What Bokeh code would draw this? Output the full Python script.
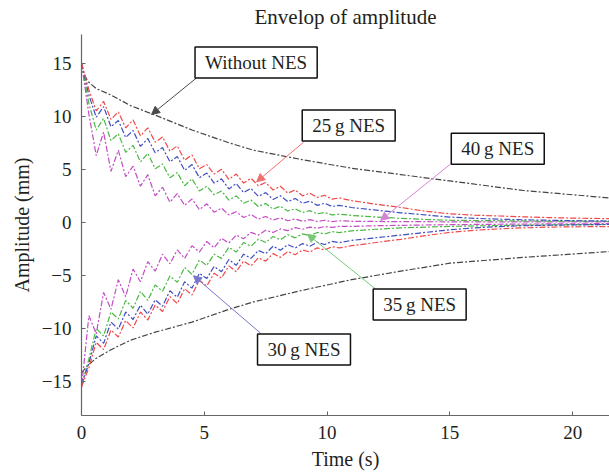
from bokeh.plotting import figure
from bokeh.models import Range1d, Label, Arrow, NormalHead, FixedTicker
from bokeh.embed import file_html
from bokeh.resources import INLINE

# ---- data ----
T_OSC = [0.0, 0.3, 0.6, 0.9, 1.2, 1.5, 1.8, 2.1, 2.4, 2.7, 3.0, 3.3, 3.6, 3.9,
         4.2, 4.5, 4.8, 5.1, 5.4, 5.7, 6.0, 6.3, 6.6, 6.9, 7.2, 7.5, 7.8, 8.1,
         8.4, 8.7, 9.0, 9.3, 9.6, 9.9, 10.2, 10.5,
         11, 12, 13, 14, 15, 16, 17, 18, 19, 20, 21.5]

RED_UP = [15.0, 12.5, 10.5, 11.4, 9.7, 10.4, 8.9, 9.65, 8.15, 8.9, 7.55, 8.05, 6.7, 7.2,
          5.85, 6.35, 5.05, 5.45, 4.55, 5.0, 4.05, 4.55, 3.7, 4.15, 3.45, 3.75, 3.05, 3.4,
          2.75, 3.05, 2.5, 2.75, 2.35, 2.55, 2.18, 2.3,
          2.05, 1.7, 1.4, 1.05, 0.8, 0.68, 0.6, 0.52, 0.45, 0.4, 0.35]
BLUE_UP = [15.0, 12.0, 9.9, 10.9, 9.0, 9.6, 8.0, 8.65, 7.15, 7.9, 6.55, 7.05, 5.7, 6.2,
           4.9, 5.45, 4.2, 4.65, 3.7, 4.1, 3.15, 3.65, 2.8, 3.2, 2.45, 2.8, 2.15, 2.5,
           1.95, 2.25, 1.8, 2.0, 1.6, 1.8, 1.5, 1.6,
           1.4, 1.15, 0.9, 0.7, 0.5, 0.38, 0.3, 0.24, 0.2, 0.16, 0.12]
GREEN_UP = [15.0, 11.2, 8.7, 9.8, 7.7, 8.35, 6.6, 7.25, 5.7, 6.5, 5.05, 5.5, 4.2, 4.7,
            3.45, 4.1, 2.95, 3.4, 2.6, 2.95, 2.1, 2.5, 1.8, 2.1, 1.5, 1.78, 1.25, 1.52,
            1.07, 1.28, 0.93, 1.1, 0.8, 0.93, 0.7, 0.78,
            0.65, 0.5, 0.38, 0.28, 0.2, 0.17, 0.15, 0.13, 0.12, 0.11, 0.1]
MAGENTA_UP = [15.0, 10.2, 6.3, 8.5, 4.8, 6.8, 4.3, 5.3, 3.4, 4.5, 2.5, 3.3, 1.9, 2.7,
              1.6, 2.2, 1.2, 1.75, 0.95, 1.35, 0.7, 1.0, 0.45, 0.75, 0.3, 0.55, 0.22, 0.42,
              0.15, 0.32, 0.1, 0.25, 0.08, 0.2, 0.06, 0.15,
              0.1, 0.08, 0.06, 0.06, 0.05, 0.05, 0.05, 0.05, 0.05, 0.05, 0.05]

RED_LO = [-15.5, -13.7, -11.3, -12.0, -10.15, -10.8, -9.25, -9.95, -8.45, -9.2, -7.8, -8.4, -7.0, -7.65,
          -6.25, -6.85, -5.45, -6.0, -4.8, -5.25, -4.1, -4.65, -3.65, -4.1, -3.35, -3.65, -2.95, -3.3,
          -2.75, -3.05, -2.6, -2.8, -2.4, -2.6, -2.3, -2.41,
          -2.2, -1.9, -1.6, -1.25, -0.95, -0.75, -0.62, -0.52, -0.45, -0.42, -0.4]
BLUE_LO = [-15.3, -13.3, -10.7, -11.4, -9.4, -10.05, -8.45, -9.15, -7.8, -8.65, -7.3, -7.9, -6.45, -7.05,
           -5.6, -6.2, -4.8, -5.3, -4.15, -4.65, -3.5, -4.05, -3.0, -3.4, -2.65, -2.95, -2.25, -2.62,
           -2.1, -2.42, -2.0, -2.25, -1.88, -2.09, -1.8, -1.91,
           -1.7, -1.45, -1.2, -0.95, -0.7, -0.52, -0.4, -0.32, -0.27, -0.24, -0.2]
GREEN_LO = [-15.4, -12.9, -10.0, -10.7, -8.45, -9.1, -7.35, -8.1, -6.5, -7.35, -5.9, -6.5, -5.05, -5.65,
            -4.25, -4.9, -3.55, -4.05, -3.0, -3.4, -2.35, -2.8, -1.9, -2.25, -1.58, -1.9, -1.33, -1.64,
            -1.17, -1.46, -1.08, -1.26, -0.95, -1.1, -0.87, -0.96,
            -0.8, -0.65, -0.52, -0.45, -0.38, -0.34, -0.3, -0.27, -0.25, -0.22, -0.2]
MAGENTA_LO = [-15.6, -8.8, -10.5, -6.6, -8.2, -5.4, -7.0, -4.4, -5.6, -3.7, -4.6, -3.0, -3.9, -2.6,
              -3.4, -2.2, -2.8, -1.8, -2.4, -1.5, -1.95, -1.2, -1.55, -0.95, -1.2, -0.75, -0.95, -0.62,
              -0.78, -0.5, -0.65, -0.45, -0.55, -0.4, -0.48, -0.38,
              -0.38, -0.32, -0.28, -0.25, -0.22, -0.2, -0.18, -0.16, -0.15, -0.14, -0.12]

T_BLACK = [0, 0.1, 0.25, 0.6, 1.2, 2, 3, 4.5, 6, 7, 9, 11, 13, 15, 18, 21.5]
BLACK_UP = [15.0, 14.0, 13.3, 12.6, 12.0, 11.0, 10.1, 8.7, 7.5, 6.8, 5.9, 5.1, 4.5, 3.9, 3.0, 2.3]
BLACK_LO = [-14.2, -13.9, -13.5, -12.8, -12.0, -11.1, -10.35, -9.4, -8.2, -7.5, -6.4, -5.4, -4.6, -3.85, -3.3, -2.75]

X_TICKS = [0, 5, 10, 15, 20]
Y_TICKS = [-15, -10, -5, 0, 5, 10, 15]

# annotation texts, box centres and arrow start/end (data units)
NOTE_TEXT = ["Without NES", "25\u2009g NES", "40\u2009g NES", "35\u2009g NES", "30\u2009g NES"]
NOTE_X = [7.11, 10.88, 16.95, 13.77, 9.06]
NOTE_Y = [15.05, 9.13, 6.94, -7.74, -11.98]
ARROW_X0 = [4.68, 9.04, 15.03, 12.1, 7.29]
ARROW_Y0 = [13.6, 7.55, 5.5, -6.52, -10.44]
ARROW_X1 = [2.85, 7.13, 12.18, 9.2, 4.56]
ARROW_Y1 = [10.16, 3.82, 0.19, -1.12, -5.03]
ARROW_COLORS = ["#4a4a4a", "#f07070", "#d585d5", "#78c878", "#7777cc"]

FONT = "Liberation Serif"
TXT = "#231f20"

for arr in [RED_UP, BLUE_UP, GREEN_UP, MAGENTA_UP, RED_LO, BLUE_LO, GREEN_LO, MAGENTA_LO]:
    assert len(arr) == len(T_OSC), len(arr)

p = figure(width=609, height=472, output_backend="svg", toolbar_location=None,
           x_range=Range1d(0, 21.5), y_range=Range1d(-18.2, 17.7),
           min_border_left=81, min_border_right=0, min_border_top=32, min_border_bottom=55)

p.title.text = "Envelop of amplitude"
p.title.text_font = FONT
p.title.text_font_size = "21px"
p.title.text_font_style = "normal"
p.title.text_color = TXT
p.title.align = "center"
p.title.vertical_align = "top"
p.title.standoff = 8

p.grid.visible = False
p.outline_line_color = None
p.background_fill_color = "white"

for ax in (p.xaxis, p.yaxis):
    ax.axis_line_color = "#666666"
    ax.axis_line_width = 1.2
    ax.major_tick_line_color = "#666666"
    ax.major_tick_in = 4
    ax.major_tick_out = 0
    ax.minor_tick_line_color = None
    ax.major_label_text_font = FONT
    ax.major_label_text_font_size = "19px"
    ax.major_label_text_color = TXT
    ax.axis_label_text_font = FONT
    ax.axis_label_text_font_size = "20px"
    ax.axis_label_text_font_style = "normal"
    ax.axis_label_text_color = TXT

p.xaxis.ticker = FixedTicker(ticks=X_TICKS)
p.yaxis.ticker = FixedTicker(ticks=Y_TICKS)
p.xaxis.axis_label = "Time (s)"
p.yaxis.axis_label = "Amplitude (mm)"
p.xaxis.major_label_standoff = 10
p.yaxis.major_label_standoff = 10
p.xaxis.axis_label_standoff = 6
p.yaxis.axis_label_standoff = 6

DASH = "6 2 2 2"
LW = 1.2
series = [
    (T_BLACK, BLACK_UP, "#444444"), (T_BLACK, BLACK_LO, "#444444"),
    (T_OSC, MAGENTA_UP, "#c44cc4"), (T_OSC, MAGENTA_LO, "#c44cc4"),
    (T_OSC, GREEN_UP, "#4cb845"), (T_OSC, GREEN_LO, "#4cb845"),
    (T_OSC, BLUE_UP, "#3f4fc0"), (T_OSC, BLUE_LO, "#3f4fc0"),
    (T_OSC, RED_UP, "#f24848"), (T_OSC, RED_LO, "#f24848"),
]
for xs, ys, c in series:
    p.line(xs, ys, line_color=c, line_width=LW, line_dash=DASH)

for i in range(len(NOTE_TEXT)):
    c = ARROW_COLORS[i]
    p.add_layout(Arrow(x_start=ARROW_X0[i], y_start=ARROW_Y0[i],
                       x_end=ARROW_X1[i], y_end=ARROW_Y1[i],
                       line_color=c, line_width=1,
                       end=NormalHead(size=8, fill_color=c, line_color=c)))

for i in range(len(NOTE_TEXT)):
    p.add_layout(Label(x=NOTE_X[i], y=NOTE_Y[i], text=NOTE_TEXT[i],
                       text_align="center", text_baseline="middle",
                       text_font=FONT, text_font_size="19px", text_color=TXT,
                       background_fill_color="white", background_fill_alpha=1.0,
                       border_line_color="#111111", border_line_width=1.5,
                       padding=dict(left=10, right=10, top=5, bottom=5)))

open("out.html", "w").write(file_html(p, INLINE))
